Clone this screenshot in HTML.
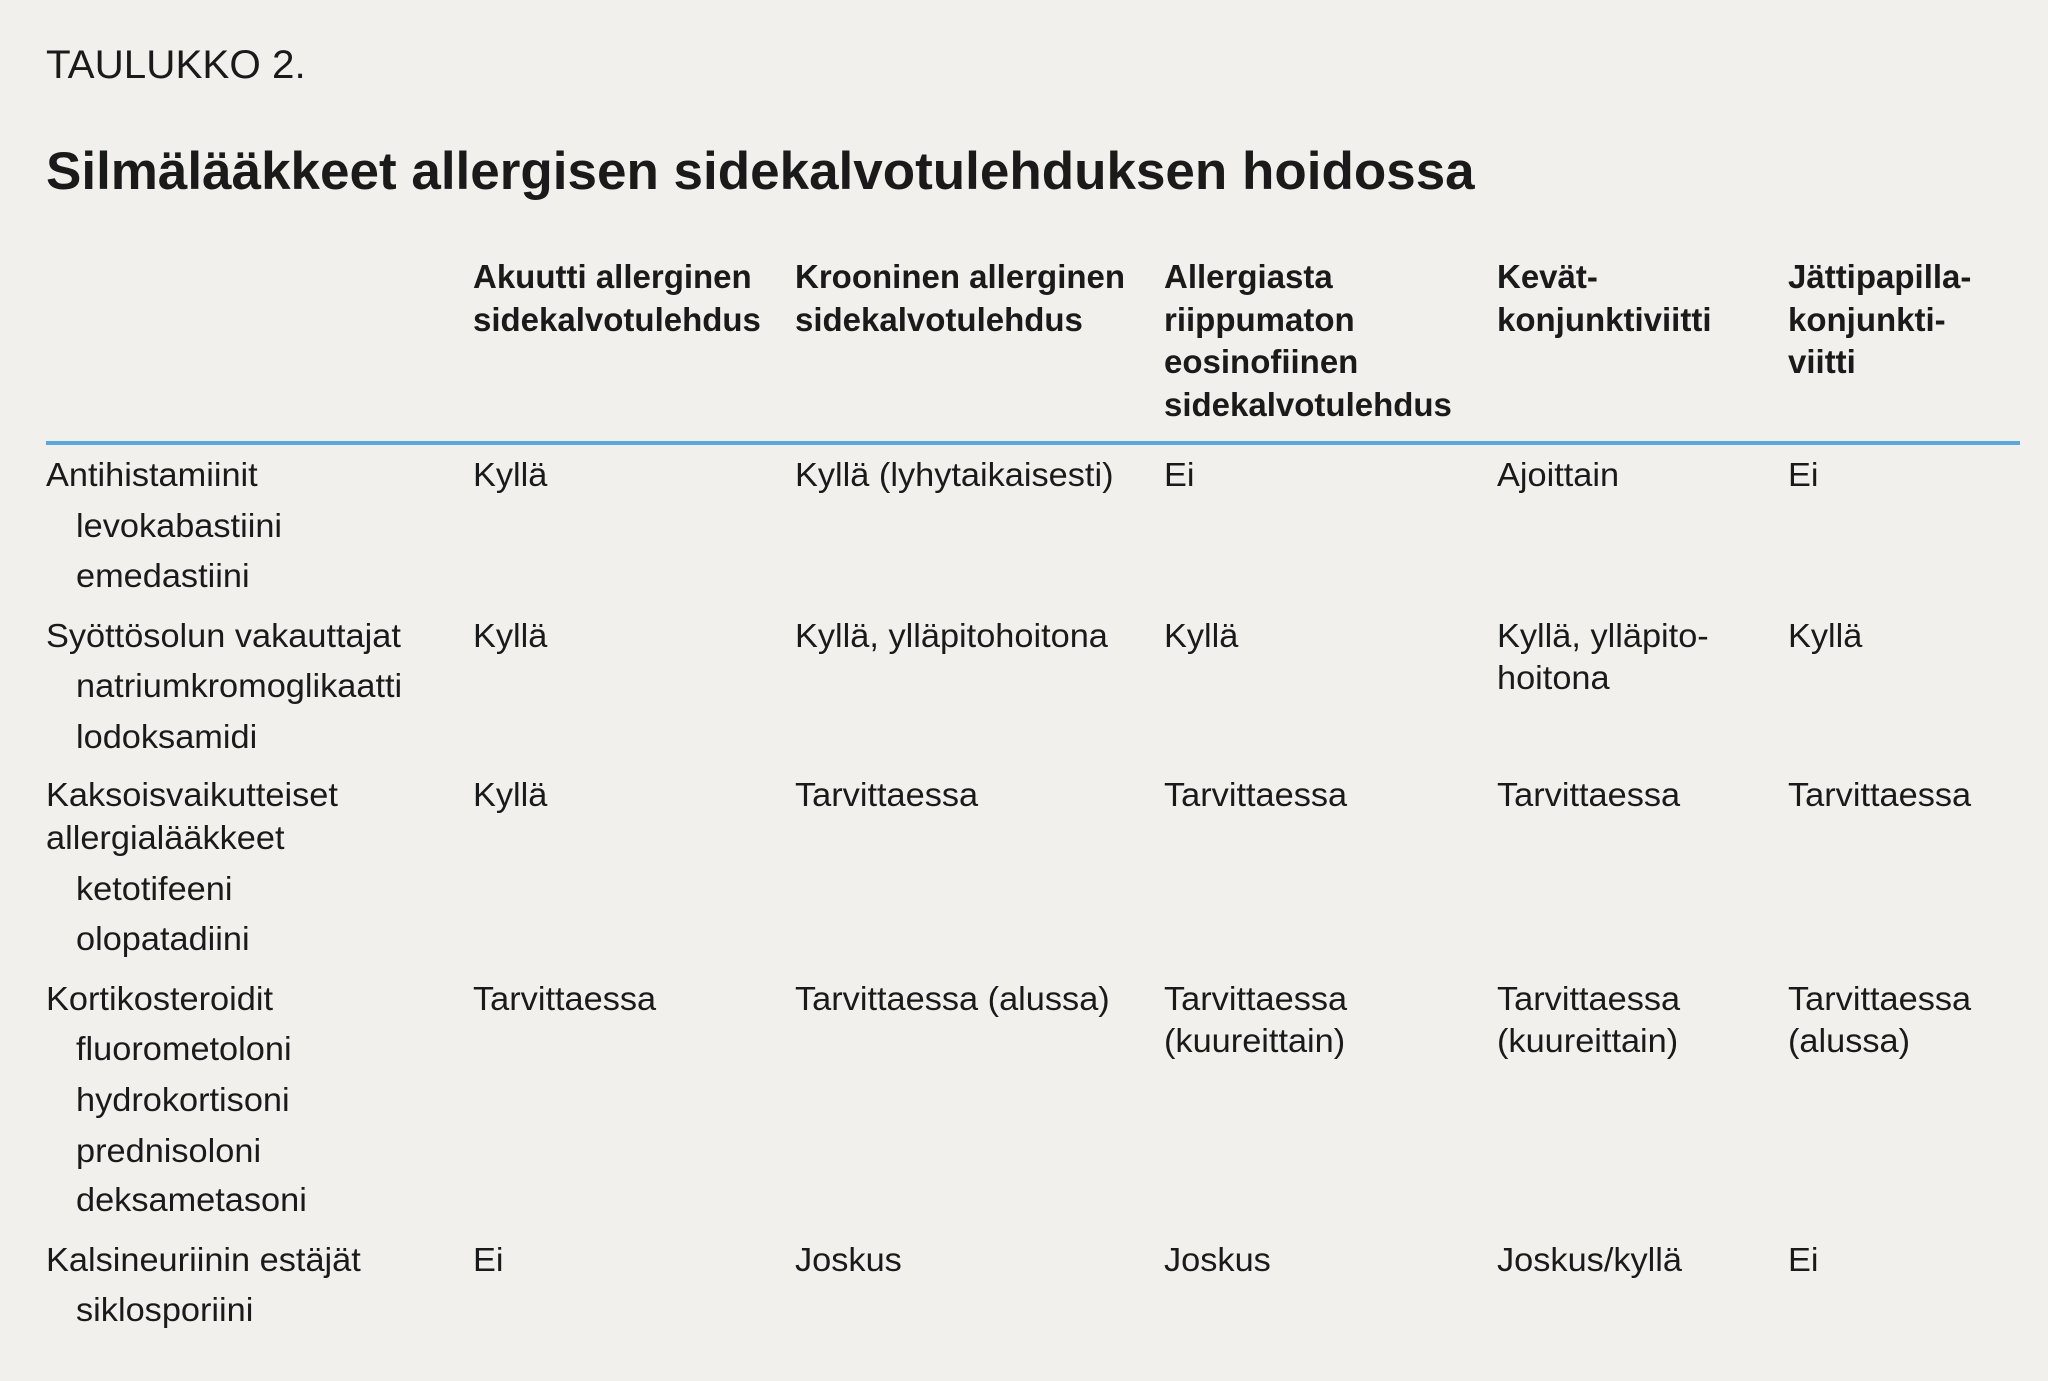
<!DOCTYPE html>
<html><head><meta charset="utf-8"><style>
html,body{margin:0;padding:0;background:#f2f0ec;}
#c{position:relative;width:2048px;height:1381px;overflow:hidden;background:#f2f0ec;font-family:"Liberation Sans",sans-serif;color:#1a1a1a;}
.t{position:absolute;white-space:nowrap;font-size:33px;line-height:44px;transform-origin:0 50%;transform:scaleX(1.04);}
.b{font-weight:bold;transform:scaleX(1.0);}
</style></head><body><div id="c">
<div class="t" style="left:46px;top:41px;font-size:40px;line-height:48px;transform:scaleX(1.01)">TAULUKKO 2.</div>
<div class="t" style="left:46px;top:142px;font-size:53px;line-height:60px;font-weight:bold;transform:scaleX(1.0)">Silmälääkkeet allergisen sidekalvotulehduksen hoidossa</div>

<div class="t b" style="left:473px;top:255px">Akuutti allerginen</div>
<div class="t b" style="left:473px;top:298px">sidekalvotulehdus</div>
<div class="t b" style="left:795px;top:255px">Krooninen allerginen</div>
<div class="t b" style="left:795px;top:298px">sidekalvotulehdus</div>
<div class="t b" style="left:1164px;top:255px">Allergiasta</div>
<div class="t b" style="left:1164px;top:298px">riippumaton</div>
<div class="t b" style="left:1164px;top:340px">eosinofiinen</div>
<div class="t b" style="left:1164px;top:383px">sidekalvotulehdus</div>
<div class="t b" style="left:1497px;top:255px">Kevät-</div>
<div class="t b" style="left:1497px;top:298px">konjunktiviitti</div>
<div class="t b" style="left:1788px;top:255px">Jättipapilla-</div>
<div class="t b" style="left:1788px;top:298px">konjunkti-</div>
<div class="t b" style="left:1788px;top:340px">viitti</div>

<div style="position:absolute;left:46px;top:441px;width:1974px;height:4px;background:#5aa9dc"></div>

<div class="t" style="left:46px;top:453px">Antihistamiinit</div>
<div class="t" style="left:76px;top:504px">levokabastiini</div>
<div class="t" style="left:76px;top:554px">emedastiini</div>
<div class="t" style="left:46px;top:614px">Syöttösolun vakauttajat</div>
<div class="t" style="left:76px;top:664px">natriumkromoglikaatti</div>
<div class="t" style="left:76px;top:715px">lodoksamidi</div>
<div class="t" style="left:46px;top:773px">Kaksoisvaikutteiset</div>
<div class="t" style="left:46px;top:816px">allergialääkkeet</div>
<div class="t" style="left:76px;top:867px">ketotifeeni</div>
<div class="t" style="left:76px;top:917px">olopatadiini</div>
<div class="t" style="left:46px;top:977px">Kortikosteroidit</div>
<div class="t" style="left:76px;top:1027px">fluorometoloni</div>
<div class="t" style="left:76px;top:1078px">hydrokortisoni</div>
<div class="t" style="left:76px;top:1129px">prednisoloni</div>
<div class="t" style="left:76px;top:1178px">deksametasoni</div>
<div class="t" style="left:46px;top:1238px">Kalsineuriinin estäjät</div>
<div class="t" style="left:76px;top:1288px">siklosporiini</div>

<div class="t" style="left:473px;top:453px">Kyllä</div>
<div class="t" style="left:795px;top:453px">Kyllä (lyhytaikaisesti)</div>
<div class="t" style="left:1164px;top:453px">Ei</div>
<div class="t" style="left:1497px;top:453px">Ajoittain</div>
<div class="t" style="left:1788px;top:453px">Ei</div>

<div class="t" style="left:473px;top:614px">Kyllä</div>
<div class="t" style="left:795px;top:614px">Kyllä, ylläpitohoitona</div>
<div class="t" style="left:1164px;top:614px">Kyllä</div>
<div class="t" style="left:1497px;top:614px">Kyllä, ylläpito-</div>
<div class="t" style="left:1497px;top:656px">hoitona</div>
<div class="t" style="left:1788px;top:614px">Kyllä</div>

<div class="t" style="left:473px;top:773px">Kyllä</div>
<div class="t" style="left:795px;top:773px">Tarvittaessa</div>
<div class="t" style="left:1164px;top:773px">Tarvittaessa</div>
<div class="t" style="left:1497px;top:773px">Tarvittaessa</div>
<div class="t" style="left:1788px;top:773px">Tarvittaessa</div>

<div class="t" style="left:473px;top:977px">Tarvittaessa</div>
<div class="t" style="left:795px;top:977px">Tarvittaessa (alussa)</div>
<div class="t" style="left:1164px;top:977px">Tarvittaessa</div>
<div class="t" style="left:1164px;top:1019px">(kuureittain)</div>
<div class="t" style="left:1497px;top:977px">Tarvittaessa</div>
<div class="t" style="left:1497px;top:1019px">(kuureittain)</div>
<div class="t" style="left:1788px;top:977px">Tarvittaessa</div>
<div class="t" style="left:1788px;top:1019px">(alussa)</div>

<div class="t" style="left:473px;top:1238px">Ei</div>
<div class="t" style="left:795px;top:1238px">Joskus</div>
<div class="t" style="left:1164px;top:1238px">Joskus</div>
<div class="t" style="left:1497px;top:1238px">Joskus/kyllä</div>
<div class="t" style="left:1788px;top:1238px">Ei</div>
</div></body></html>
